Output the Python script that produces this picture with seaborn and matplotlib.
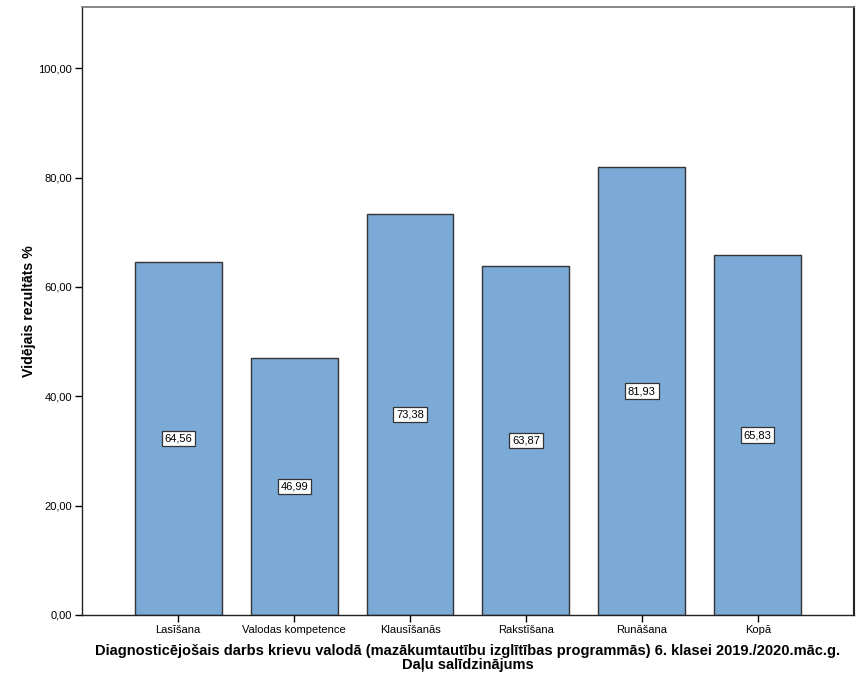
import pandas as pd
import matplotlib
matplotlib.use("Agg")
import matplotlib.pyplot as plt
from matplotlib.ticker import FuncFormatter
import seaborn as sns

# values
categories = ["Lasīšana", "Valodas kompetence", "Klausīšanās",
              "Rakstīšana", "Runāšana", "Kopā"]
mean_scores = [64.56, 46.99, 73.38, 63.87, 81.93, 65.83]
y_ticks = [0, 20, 40, 60, 80, 100]

df = pd.DataFrame({"part": categories, "score": mean_scores})

sns.set_theme(style="white")
plt.rcParams["font.family"] = ["Liberation Sans", "DejaVu Sans"]
plt.rcParams["text.color"] = "black"
plt.rcParams["axes.labelcolor"] = "black"
plt.rcParams["xtick.color"] = "black"
plt.rcParams["ytick.color"] = "black"

fig = plt.figure(figsize=(8.63, 6.90), dpi=100)
ax = fig.add_axes([0.095, 0.1087, 0.8945, 0.8812])

sns.barplot(data=df, x="part", y="score", color="#7BAAD6", saturation=1,
            width=0.75, edgecolor="#333333", linewidth=1.0, ax=ax)

# value labels in the middle of each bar
for i, v in enumerate(mean_scores):
    ax.text(i, v / 2, f"{v:.2f}".replace(".", ","), ha="center", va="center",
            fontsize=8, color="black",
            bbox=dict(boxstyle="square,pad=0.25", facecolor="white",
                      edgecolor="#333333", linewidth=0.9))

ax.set_xlim(-0.83, 5.83)
ax.set_ylim(0, 111.2)
ax.set_yticks(y_ticks)
ax.yaxis.set_major_formatter(FuncFormatter(lambda v, p: f"{v:.2f}".replace(".", ",")))

ax.tick_params(axis="both", which="major", direction="out", length=5,
               width=1, color="black", labelcolor="black", labelsize=8, pad=2,
               bottom=True, left=True)

ax.set_xlabel("Diagnosticējošais darbs krievu valodā (mazākumtautību izglītības "
              "programmās) 6. klasei 2019./2020.māc.g.\nDaļu salīdzinājums",
              fontsize=10.5, fontweight="bold", labelpad=7, linespacing=0.95,
              color="black")
ax.set_ylabel("Vidējais rezultāts %", fontsize=10.2, fontweight="bold",
              labelpad=2, color="black")

for side in ["left", "bottom"]:
    ax.spines[side].set_color("#222222")
    ax.spines[side].set_linewidth(1.0)
ax.spines["top"].set_color("#777777")
ax.spines["right"].set_color("#222222")
ax.spines["right"].set_linewidth(1.5)

fig.savefig("out.png", dpi=100, facecolor="white")
